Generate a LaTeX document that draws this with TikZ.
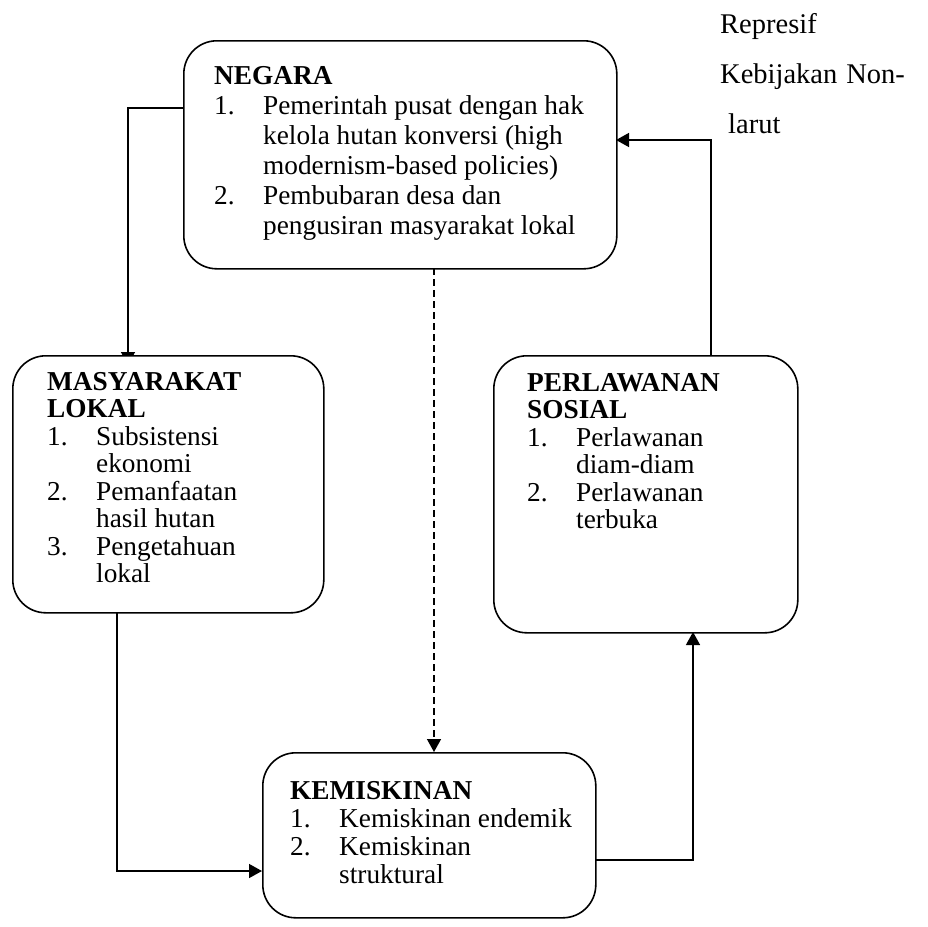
\documentclass[tikz,border=0pt]{standalone}
\usepackage{fontspec}
\setmainfont{Liberation Serif}
\usetikzlibrary{arrows.meta}
\begin{document}
\begin{tikzpicture}[x=1pt,y=-1pt,
  box/.style={draw, line width=1.6pt, rounded corners=33pt, fill=white, anchor=north west, inner sep=0pt},
  txt/.style={anchor=base west, inner sep=0pt, font=\fontsize{27.3}{27.5}\selectfont},
  sidetxt/.style={anchor=base west, inner sep=0pt, font=\fontsize{28.5}{30}\selectfont},
  conn/.style={line width=1.4pt, -{Triangle[length=13pt,width=14pt]}},
  dashconn/.style={conn, dash pattern=on 7pt off 4pt},
]
\useasboundingbox (0,0) rectangle (928,926);
\newcommand{\nm}[1]{\makebox[49pt][l]{#1}}
\newcommand{\ind}{\hspace*{49pt}}
\newcommand{\tl}[1]{\hbox{#1}}

% connector end points
\coordinate (nL) at (183,108);
\coordinate (mT) at (128,365);
\coordinate (nB) at (434,268);
\coordinate (kT) at (434,752);
\coordinate (mB) at (117,612);
\coordinate (kL) at (262,871);
\coordinate (kR) at (595,860);
\coordinate (pB) at (693,632);
\coordinate (pT) at (711,355);
\coordinate (nR) at (616,140);

% connectors
\draw[conn] (nL) -| (mT);
\draw[dashconn] (nB) -- (kT);
\draw[conn] (mB) |- (kL);
\draw[conn] (kR) -| (pB);
\draw[conn] (pT) |- (nR);

% boxes
\node[box, minimum width=433pt, minimum height=228pt] (negara) at (183,40) {};
\node[box, minimum width=311pt, minimum height=257pt] (masy) at (12,355) {};
\node[box, minimum width=304pt, minimum height=277pt] (perl) at (493,355) {};
\node[box, minimum width=333pt, minimum height=165pt] (kemis) at (262,752) {};

% texts
\node[txt, font=\fontsize{27.3}{30}\selectfont] (negaratext) at (214,84) {\vtop{\tl{\textbf{NEGARA}}
\tl{\nm{1.}Pemerintah pusat dengan hak}
\tl{\ind kelola hutan konversi (high}
\tl{\ind modernism-based policies)}
\tl{\nm{2.}Pembubaran desa dan}
\tl{\ind pengusiran masyarakat lokal}}};

\node[txt] (masytext) at (47,390) {\vtop{\tl{\textbf{MASYARAKAT}}
\tl{\textbf{LOKAL}}
\tl{\nm{1.}Subsistensi}
\tl{\ind ekonomi}
\tl{\nm{2.}Pemanfaatan}
\tl{\ind hasil hutan}
\tl{\nm{3.}Pengetahuan}
\tl{\ind lokal}}};

\node[txt] (perltext) at (527,391) {\vtop{\tl{\textbf{PERLAWANAN}}
\tl{\textbf{SOSIAL}}
\tl{\nm{1.}Perlawanan}
\tl{\ind diam-diam}
\tl{\nm{2.}Perlawanan}
\tl{\ind terbuka}}};

\node[txt, font=\fontsize{27.3}{28}\selectfont] (kemistext) at (290,799) {\vtop{\tl{\textbf{KEMISKINAN}}
\tl{\nm{1.}Kemiskinan endemik}
\tl{\nm{2.}Kemiskinan}
\tl{\ind struktural}}};

\node[sidetxt] (represif) at (720,33) {Represif};
\node[sidetxt] (kebijakan) at (720,83) {Kebijakan\hspace{9pt}Non-};
\node[sidetxt] (larut) at (728,133) {larut};
\end{tikzpicture}
\end{document}
